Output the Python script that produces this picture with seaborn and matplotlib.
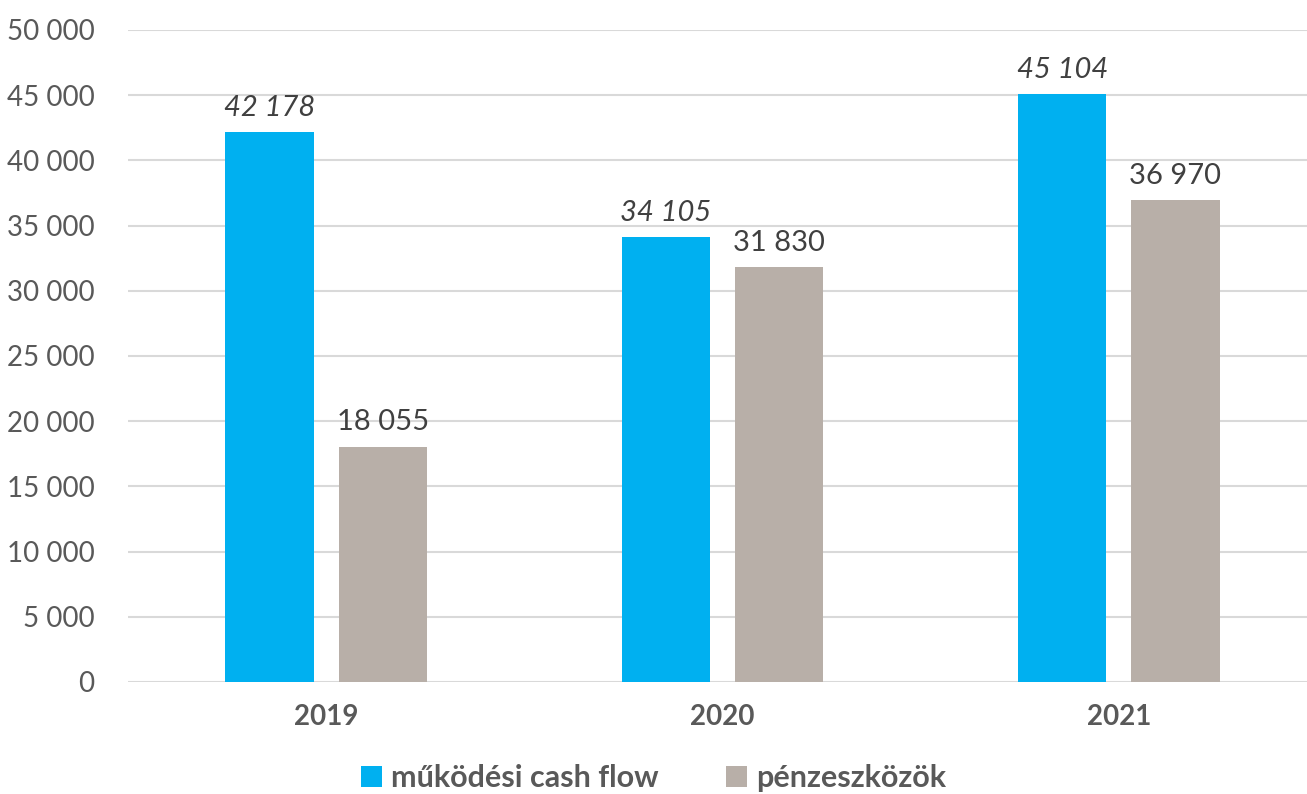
import matplotlib
matplotlib.use("Agg")
import matplotlib.pyplot as plt
import seaborn as sns
import pandas as pd
from matplotlib.ticker import FuncFormatter, MultipleLocator
from matplotlib.patches import Patch

# Data
years = ["2019", "2020", "2021"]
series_names = ["működési cash flow", "pénzeszközök"]
cash_flow = [42178, 34105, 45104]
cash_assets = [18055, 31830, 36970]
colors = ["#00B0F0", "#B8AFA8"]

df = pd.DataFrame({
    "year": years * 2,
    "series": [series_names[0]] * 3 + [series_names[1]] * 3,
    "value": cash_flow + cash_assets,
})

sns.set_theme(style="white")
plt.rcParams["font.family"] = ["Lato", "DejaVu Sans"]

W, H = 1307, 794
fig = plt.figure(figsize=(W / 100, H / 100), dpi=100)
ax = fig.add_axes([128 / W, (H - 682) / H, (W - 128) / W, (682 - 30) / H])

sns.barplot(data=df, x="year", y="value", hue="series", palette=colors,
            width=0.571, gap=0.22, saturation=1, ax=ax, legend=False,
            linewidth=0, errorbar=None)

ax.set_ylim(0, 50000)
ax.set_xlim(-0.5, 2.5 - 10 / 396)
ax.yaxis.set_major_locator(MultipleLocator(5000))
ax.yaxis.set_major_formatter(FuncFormatter(lambda v, p: f"{int(v):,}".replace(",", " ")))
ax.grid(axis="y", color="#D9D9D9", linewidth=1.5)
ax.set_axisbelow(True)
for s in ax.spines.values():
    s.set_visible(False)

ax.set_xlabel("")
ax.set_ylabel("")
ax.tick_params(axis="y", labelsize=20, labelcolor="#595959", length=0, pad=24)
ax.tick_params(axis="x", labelsize=20, labelcolor="#595959", length=0, pad=16)
for t in ax.get_xticklabels():
    t.set_fontweight("bold")

# value labels
for cont, style in zip(ax.containers, ["italic", "normal"]):
    labels = [f"{int(v):,}".replace(",", " ") for v in cont.datavalues]
    ax.bar_label(cont, labels=labels, padding=8, fontsize=21,
                 color="#404040", fontstyle=style)

handles = [Patch(facecolor=c, edgecolor="none") for c in colors]
leg = fig.legend(handles, series_names, loc="center", bbox_to_anchor=(0.5, 16 / H),
                 ncol=2, frameon=False, fontsize=22, handlelength=0.7,
                 handleheight=0.7, handletextpad=0.3, columnspacing=2.2)
for t in leg.get_texts():
    t.set_color("#595959")
    t.set_fontweight("bold")

fig.savefig("out.png", dpi=100)
